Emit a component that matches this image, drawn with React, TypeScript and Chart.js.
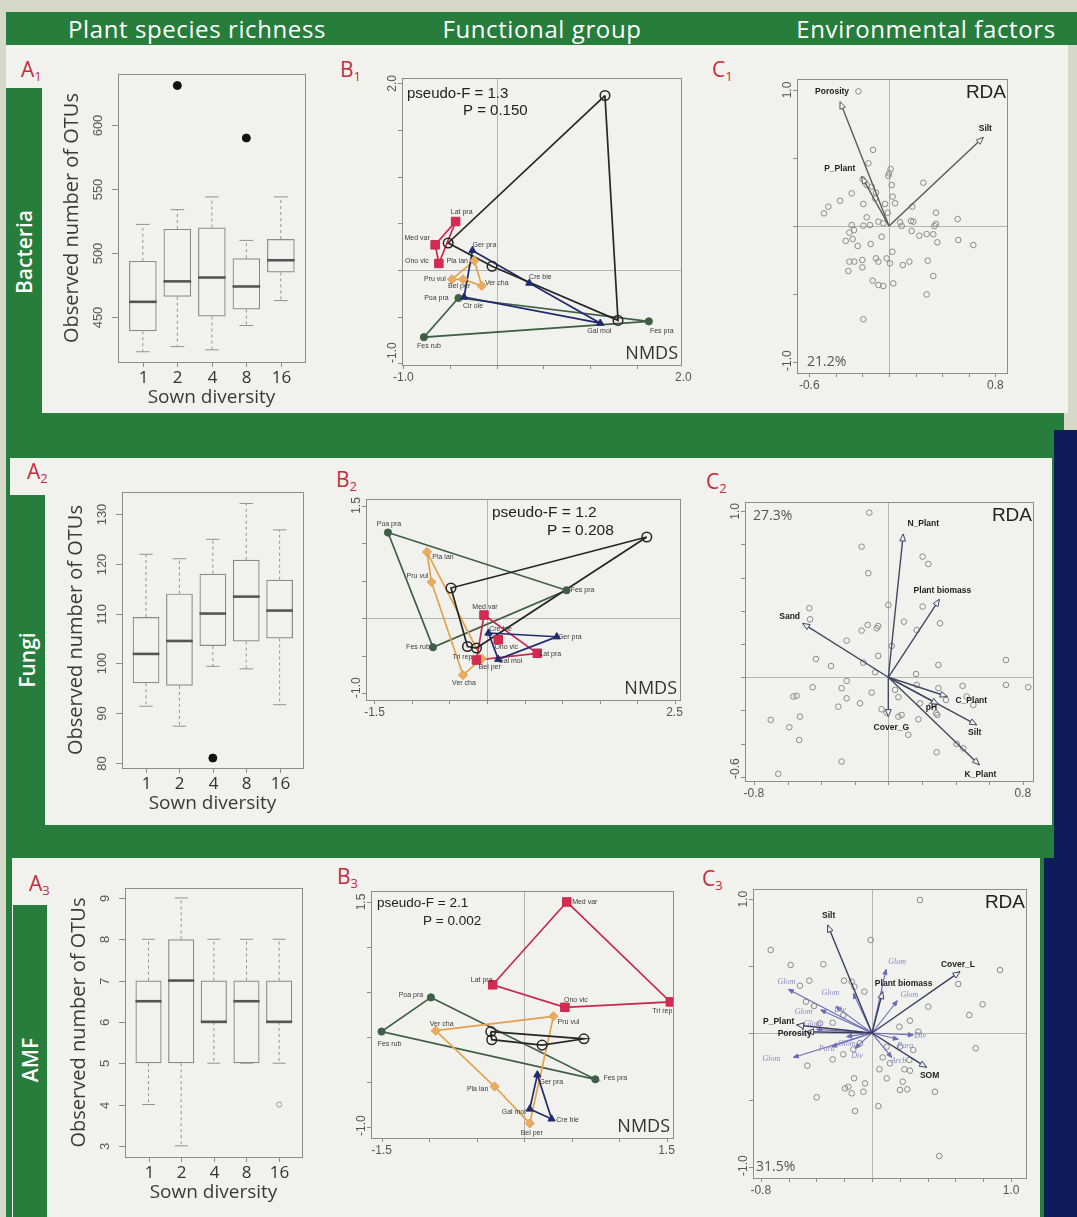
import React, { useEffect, useRef } from "react";
import { Chart, registerables } from "chart.js";

Chart.register(...registerables);

/* ====================== DATA ====================== */
const sownDiversity = ["1", "2", "4", "8", "16"];

// A1 – Bacteria observed OTUs (box plot statistics per sown diversity level)
const bacteriaLow = [423, 427, 424.5, 443.5, 463];
const bacteriaQ1 = [439, 466, 450.5, 456, 485];
const bacteriaMedian = [462, 478, 481, 474, 494.5];
const bacteriaQ3 = [494, 519, 520, 496, 511];
const bacteriaHigh = [522.5, 534, 544, 510, 544];
const bacteriaOutliers = [
  { group: "2", value: 631 },
  { group: "8", value: 590 },
];
const bacteriaTicks = [450, 500, 550, 600];

// A2 – Fungi
const fungiLow = [91.4, 87.4, 99.4, 98.9, 91.7];
const fungiQ1 = [96.0, 95.5, 103.5, 104.4, 105.0];
const fungiMedian = [101.9, 104.5, 110.0, 113.4, 110.6];
const fungiQ3 = [109.3, 114.0, 118.0, 120.8, 116.8];
const fungiHigh = [121.9, 121.0, 124.9, 132.1, 126.8];
const fungiOutliers = [{ group: "4", value: 81 }];
const fungiTicks = [80, 90, 100, 110, 120, 130];

// A3 – AMF
const amfLow = [4, 3, 5, 5, 5];
const amfQ1 = [5, 5, 6, 5, 6];
const amfMedian = [6.5, 7, 6, 6.5, 6];
const amfQ3 = [7, 8, 7, 7, 7];
const amfHigh = [8, 9, 8, 8, 8];
const amfOutliers = [{ group: "16", value: 4 }];
const amfTicks = [3, 4, 5, 6, 7, 8, 9];

// B1 – Bacteria NMDS
const b1Grasses = [
  { name: "Poa pra", x: -0.41, y: -0.3 },
  { name: "Fes rub", x: -0.78, y: -0.72 },
  { name: "Fes pra", x: 1.63, y: -0.55 },
];
const b1Legumes = [
  { name: "Lat pra", x: -0.44, y: 0.52 },
  { name: "Med var", x: -0.66, y: 0.27 },
  { name: "Ono vic", x: -0.62, y: 0.07 },
];
const b1SmallHerbs = [
  { name: "Pla lan", x: -0.24, y: 0.1 },
  { name: "Pru vul", x: -0.48, y: -0.1 },
  { name: "Bel per", x: -0.36, y: -0.1 },
  { name: "Ver cha", x: -0.16, y: -0.17 },
];
const b1TallHerbs = [
  { name: "Ger pra", x: -0.26, y: 0.21 },
  { name: "Cre bie", x: 0.35, y: -0.14 },
  { name: "Gal mol", x: 1.11, y: -0.57 },
  { name: "Cir ole", x: -0.35, y: -0.29 },
];
const b1Other = [
  { name: "", x: 1.16, y: 1.87 },
  { name: "", x: -0.52, y: 0.29 },
  { name: "", x: -0.05, y: 0.04 },
  { name: "", x: 1.3, y: -0.54 },
];

// B2 – Fungi NMDS
const b2Grasses = [
  { name: "Poa pra", x: -1.32, y: 1.14 },
  { name: "Fes pra", x: 1.06, y: 0.37 },
  { name: "Fes rub", x: -0.72, y: -0.39 },
];
const b2Legumes = [
  { name: "Med var", x: -0.04, y: 0.04 },
  { name: "Ono vic", x: 0.15, y: -0.29 },
  { name: "Lat pra", x: 0.67, y: -0.47 },
  { name: "Tri rep", x: -0.14, y: -0.56 },
];
const b2LegumeHull = ["Med var", "Lat pra", "Tri rep"];
const b2SmallHerbs = [
  { name: "Pla lan", x: -0.8, y: 0.88 },
  { name: "Pru vul", x: -0.74, y: 0.48 },
  { name: "Ver cha", x: -0.32, y: -0.76 },
  { name: "Bel per", x: -0.07, y: -0.54 },
];
const b2TallHerbs = [
  { name: "Cre bie", x: 0.02, y: -0.2 },
  { name: "Ger pra", x: 0.93, y: -0.25 },
  { name: "Gal mol", x: 0.15, y: -0.55 },
];
const b2Other = [
  { name: "", x: 2.13, y: 1.08 },
  { name: "", x: -0.48, y: 0.4 },
  { name: "", x: -0.26, y: -0.38 },
  { name: "", x: -0.14, y: -0.4 },
];

// B3 – AMF NMDS
const b3Legumes = [
  { name: "Med var", x: 0.45, y: 1.5 },
  { name: "Tri rep", x: 1.54, y: 0.39 },
  { name: "Ono vic", x: 0.43, y: 0.33 },
  { name: "Lat pra", x: -0.33, y: 0.58 },
];
const b3Grasses = [
  { name: "Poa pra", x: -0.98, y: 0.44 },
  { name: "Fes pra", x: 0.75, y: -0.47 },
  { name: "Fes rub", x: -1.5, y: 0.06 },
];
const b3SmallHerbs = [
  { name: "Ver cha", x: -0.93, y: 0.07 },
  { name: "Pru vul", x: 0.31, y: 0.23 },
  { name: "Bel per", x: 0.06, y: -0.96 },
  { name: "Pla lan", x: -0.31, y: -0.55 },
];
const b3TallHerbs = [
  { name: "Ger pra", x: 0.14, y: -0.42 },
  { name: "Cre bie", x: 0.29, y: -0.91 },
  { name: "Gal mol", x: 0.06, y: -0.8 },
];
const b3Other = [
  { name: "", x: -0.35, y: 0.06 },
  { name: "", x: 0.63, y: -0.02 },
  { name: "", x: 0.19, y: -0.09 },
  { name: "", x: -0.34, y: -0.03 },
];

// C1 – Bacteria RDA
const c1Sites = [
  [-0.23, 0.99], [-0.12, 0.56], [-0.155, 0.461], [0.012, 0.419], [0.0, 0.387], [-0.005, 0.368],
  [0.02, 0.301], [0.258, 0.318], [-0.198, 0.343], [-0.168, 0.301], [-0.13, 0.289], [-0.098, 0.245],
  [-0.281, 0.24], [-0.368, 0.186], [-0.456, 0.142], [-0.489, 0.093], [-0.193, 0.162], [0.027, 0.216],
  [-0.03, 0.162], [0.045, 0.167], [-0.105, 0.203], [0.175, 0.142], [-0.01, 0.098], [0.353, 0.098],
  [0.516, 0.051], [0.353, 0.015], [0.341, 0.0], [0.165, 0.037], [0.183, 0.032], [0.083, 0.027],
  [0.095, 0.0], [-0.08, 0.032], [-0.043, 0.02], [-0.168, 0.064], [-0.143, 0.007], [-0.193, 0.002],
  [-0.281, 0.007], [-0.263, -0.03], [-0.298, -0.049], [-0.326, -0.11], [-0.273, -0.096], [-0.236, -0.147],
  [-0.138, -0.133], [-0.055, -0.079], [0.17, -0.037], [0.228, -0.071], [0.283, -0.059], [0.333, -0.061],
  [0.363, -0.12], [0.521, -0.103], [0.634, -0.14], [0.025, -0.189], [-0.098, -0.238], [-0.018, -0.238],
  [-0.201, -0.25], [-0.261, -0.262], [-0.298, -0.262], [-0.08, -0.262], [0.007, -0.275], [0.103, -0.287],
  [0.153, -0.262], [0.291, -0.255], [-0.306, -0.331], [-0.201, -0.304], [0.333, -0.368], [-0.123, -0.402],
  [-0.08, -0.434], [-0.043, -0.441], [0.032, -0.422], [0.283, -0.503], [-0.193, -0.686],
];
const c1Env = [
  { name: "Porosity", x: -0.368, y: 0.914 },
  { name: "P_Plant", x: -0.205, y: 0.363 },
  { name: "Silt", x: 0.709, y: 0.652 },
];

// C2 – Fungi RDA
const c2Sites = [
  [-0.113, 0.992], [-0.159, 0.787], [0.204, 0.727], [0.238, 0.683], [-0.119, 0.627], [0.0, 0.436],
  [0.204, 0.426], [-0.47, 0.416], [-0.466, 0.349], [0.093, 0.335], [0.308, 0.325], [-0.159, 0.281],
  [-0.123, 0.315], [-0.06, 0.309], [-0.069, 0.295], [0.169, 0.285], [-0.248, 0.221], [0.02, 0.189],
  [-0.06, 0.129], [-0.431, 0.11], [-0.341, 0.068], [-0.149, 0.088], [0.298, 0.074], [0.7, 0.104],
  [0.165, 0.02], [-0.079, 0.03], [-0.248, -0.022], [-0.45, -0.06], [-0.278, -0.066], [-0.099, -0.092],
  [0.04, -0.076], [0.06, -0.12], [0.298, -0.066], [0.442, -0.052], [0.7, -0.046], [0.833, -0.06],
  [0.169, -0.046], [-0.565, -0.116], [-0.546, -0.112], [-0.248, -0.127], [-0.298, -0.177], [-0.169, -0.157],
  [0.188, -0.157], [0.258, -0.167], [0.284, -0.217], [0.292, -0.227], [-0.04, -0.193], [-0.01, -0.213],
  [0.06, -0.237], [0.079, -0.227], [0.179, -0.253], [0.119, -0.347], [-0.7, -0.257], [-0.526, -0.237],
  [-0.589, -0.301], [-0.53, -0.378], [-0.278, -0.508], [-0.655, -0.582], [0.288, -0.452], [0.407, -0.402],
  [0.446, -0.428], [0.506, -0.167], [0.466, -0.116], [0.343, -0.137],
];
const c2Env = [
  { name: "N_Plant", x: 0.089, y: 0.863 },
  { name: "Plant biomass", x: 0.304, y: 0.47 },
  { name: "Sand", x: -0.51, y: 0.325 },
  { name: "C_Plant", x: 0.351, y: -0.116 },
  { name: "pH", x: 0.298, y: -0.163 },
  { name: "Silt", x: 0.526, y: -0.287 },
  { name: "K_Plant", x: 0.542, y: -0.528 },
  { name: "Cover_G", x: 0.0, y: -0.237 },
];

// C3 – AMF RDA
const c3Sites = [
  [0.345, 0.993], [-0.729, 0.62], [-0.585, 0.508], [-0.35, 0.513], [-0.01, 0.694], [0.921, 0.47],
  [0.621, 0.366], [-0.201, 0.391], [-0.127, 0.346], [-0.055, 0.309], [-0.518, 0.353], [-0.451, 0.391],
  [-0.475, 0.234], [-0.417, 0.202], [0.405, 0.197], [0.796, 0.214], [0.7, 0.134], [0.273, 0.092],
  [0.333, 0.01], [0.197, 0.047], [0.746, -0.114], [-0.465, -0.244], [-0.283, -0.197], [-0.206, -0.159],
  [-0.134, -0.122], [0.077, -0.182], [0.129, -0.226], [0.233, -0.271], [0.273, -0.281], [0.053, -0.271],
  [0.106, -0.338], [0.221, -0.363], [0.201, -0.425], [0.254, -0.42], [0.453, -0.438], [-0.17, -0.401],
  [-0.194, -0.413], [-0.129, -0.338], [-0.146, -0.45], [-0.05, -0.376], [-0.062, -0.438], [-0.398, -0.48],
  [-0.122, -0.582], [0.046, -0.545], [0.484, -0.918], [-0.283, 0.077], [-0.206, 0.134], [-0.374, 0.072],
  [0.201, -0.102], [0.297, -0.127], [-0.086, -0.077], [0.106, -0.102], [-0.146, 0.383], [0.269, -0.201],
];
const c3Env = [
  { name: "Silt", x: -0.319, y: 0.806 },
  { name: "Cover_L", x: 0.633, y: 0.458 },
  { name: "Plant biomass", x: 0.077, y: 0.309 },
  { name: "P_Plant", x: -0.542, y: 0.06 },
  { name: "Porosity", x: -0.47, y: 0.01 },
  { name: "SOM", x: 0.393, y: -0.256 },
];
const c3Taxa = [
  { name: "Glom", x: -0.602, y: 0.326 },
  { name: "Glom", x: 0.101, y: 0.475 },
  { name: "Glom", x: 0.182, y: 0.241 },
  { name: "Glom", x: -0.134, y: 0.296 },
  { name: "Glom", x: -0.369, y: 0.172 },
  { name: "Glom", x: -0.566, y: -0.182 },
  { name: "Div", x: -0.259, y: 0.197 },
  { name: "Div", x: -0.122, y: -0.114 },
  { name: "Div", x: 0.297, y: -0.015 },
  { name: "Para", x: 0.189, y: -0.047 },
  { name: "Arch", x: 0.141, y: -0.182 },
  { name: "Para", x: -0.29, y: -0.102 },
  { name: "Glom", x: -0.398, y: 0.027 },
  { name: "Glom", x: -0.182, y: -0.027 },
];

/* ====================== LAYOUT / STYLE ====================== */
const GREEN = "#277d3b";
const PANEL = "#f1f2ee";
const NAVY = "#0e1c5c";
const LABEL_RED = "#c42a40";
const ARIAL = "'Liberation Sans', Arial, sans-serif";
const OPEN = "'Open Sans', 'DejaVu Sans', sans-serif";

type Rect = { l: number; t: number; r: number; b: number };

const GROUP_STYLE: any = {
  grasses: { line: "#3f5f45", fill: "#3f5f45", point: "circle", radius: 3.6, bw: 1 },
  legumes: { line: "#c9284f", fill: "#d52a52", point: "rect", radius: 6, bw: 1 },
  smallHerbs: { line: "#e3a24d", fill: "#e8ab62", point: "rectRot", radius: 4.6, bw: 1 },
  tallHerbs: { line: "#1f2b6e", fill: "#1f2b6e", point: "triangle", radius: 4.2, bw: 1 },
  other: { line: "#262626", fill: "rgba(0,0,0,0)", point: "circle", radius: 4.8, bw: 1.5 },
};

const b1Offsets: any = {
  "Lat pra": [6, -9], "Med var": [-18, -7], "Ono vic": [-22, -2], "Pla lan": [-17, 0],
  "Pru vul": [-17, 0], "Bel per": [-4, 7], "Ver cha": [15, -3], "Ger pra": [12, -5],
  "Cre bie": [11, -6], "Gal mol": [-1, 8], "Cir ole": [9, 9], "Poa pra": [-22, 0],
  "Fes rub": [5, 9], "Fes pra": [13, 10],
};
const b2Offsets: any = {
  "Poa pra": [1, -8], "Fes pra": [16, 0], "Fes rub": [-15, 0], "Pla lan": [16, 5],
  "Pru vul": [-14, -6], "Ver cha": [1, 8], "Bel per": [8, 9], "Med var": [1, -8],
  "Ono vic": [8, 7], "Lat pra": [13, 1], "Tri rep": [-14, -3], "Cre bie": [12, -4],
  "Ger pra": [13, 0], "Gal mol": [12, 2],
};
const b3Offsets: any = {
  "Med var": [18, 0], "Lat pra": [-11, -5], "Ono vic": [11, -7], "Tri rep": [-8, 9],
  "Poa pra": [-20, -2], "Fes rub": [8, 12], "Fes pra": [20, -1], "Ver cha": [6, -7],
  "Pru vul": [15, 6], "Pla lan": [-17, 3], "Bel per": [2, 10], "Ger pra": [14, 7],
  "Gal mol": [-16, 3], "Cre bie": [16, 1],
};
const c1EnvOffsets = [[-8, -10], [-22, -8], [2, -9]];
const c2EnvOffsets = [[20, -10], [3, -9], [-13, -7], [24, 4], [-7, 3], [-2, 8], [1, 10], [3, 11]];
const c3EnvOffsets = [[1, -9], [-2, -7], [21, -8], [-18, -3], [-12, 2], [3, 8]];
const c3TaxaOffsets = [
  [-2, -7], [11, -7], [12, -6], [-23, 0], [-17, 2], [-22, 1], [4, 3], [2, 8], [7, 1], [7, 7], [7, 3], [-5, 2], [-4, -6], [0, 7],
];

/* ====================== HELPERS ====================== */
function seg(ctx: any, x1: number, y1: number, x2: number, y2: number) {
  ctx.beginPath();
  ctx.moveTo(x1, y1);
  ctx.lineTo(x2, y2);
  ctx.stroke();
}
function rotText(ctx: any, text: string, x: number, y: number) {
  ctx.save();
  ctx.translate(x, y);
  ctx.rotate(-Math.PI / 2);
  ctx.textAlign = "center";
  ctx.textBaseline = "middle";
  ctx.fillText(text, 0, 0);
  ctx.restore();
}
function baseOptions(canvas: Rect, box: Rect, xr: number[], yr: number[]) {
  return {
    responsive: false,
    animation: false,
    devicePixelRatio: 1,
    events: [],
    layout: { padding: { left: box.l - canvas.l, top: box.t - canvas.t, right: canvas.r - box.r, bottom: canvas.b - box.b } },
    plugins: { legend: { display: false }, tooltip: { enabled: false }, title: { display: false } },
    scales: {
      x: { type: "linear", min: xr[0], max: xr[1], display: false, offset: false },
      y: { type: "linear", min: yr[0], max: yr[1], display: false, beginAtZero: false },
    },
  };
}
function frameTicks(ctx: any, a: any, xs: any, ys: any, xStep: number, yStep: number) {
  ctx.strokeStyle = "#8c8c8c";
  ctx.lineWidth = 1;
  ctx.strokeRect(Math.round(a.left) + 0.5, Math.round(a.top) + 0.5, Math.round(a.right - a.left), Math.round(a.bottom - a.top));
  for (let v = Math.ceil(xs.min / xStep - 1e-6) * xStep; v <= xs.max + 1e-6; v += xStep) {
    const px = Math.round(xs.getPixelForValue(v)) + 0.5;
    seg(ctx, px, a.bottom, px, a.bottom + 4);
  }
  for (let v = Math.ceil(ys.min / yStep - 1e-6) * yStep; v <= ys.max + 1e-6; v += yStep) {
    const py = Math.round(ys.getPixelForValue(v)) + 0.5;
    seg(ctx, a.left - 4, py, a.left, py);
  }
}
function endLabels(ctx: any, a: any, xs: any, ys: any, xLabels: string[], yLabels: string[]) {
  ctx.fillStyle = "#555";
  ctx.font = `12px ${ARIAL}`;
  ctx.textAlign = "center";
  ctx.textBaseline = "alphabetic";
  xLabels.forEach((t) => ctx.fillText(t, xs.getPixelForValue(parseFloat(t)), a.bottom + 16));
  yLabels.forEach((t) => {
    const w = ctx.measureText(t).width / 2;
    let py = ys.getPixelForValue(parseFloat(t));
    py = Math.max(a.top + w - 4, Math.min(a.bottom - w - 2, py));
    rotText(ctx, t, a.left - 9, py);
  });
}
function zeroLines(ctx: any, a: any, xs: any, ys: any, horizontal: boolean) {
  ctx.save();
  ctx.strokeStyle = "#b4b4b4";
  ctx.lineWidth = 1;
  const px = Math.round(xs.getPixelForValue(0)) + 0.5;
  seg(ctx, px, a.top, px, a.bottom);
  if (horizontal) {
    const py = Math.round(ys.getPixelForValue(0)) + 0.5;
    seg(ctx, a.left, py, a.right, py);
  }
  ctx.restore();
}

/* ====================== BOX PLOTS ====================== */
function makeBoxChart(cv: HTMLCanvasElement, s: any) {
  const pos = sownDiversity.map((_, i) => i + 1);
  const plugin = {
    id: "boxDecor",
    afterDatasetsDraw(chart: any) {
      const { ctx, chartArea: a } = chart;
      const xs = chart.scales.x;
      const ys = chart.scales.y;
      const meta = chart.getDatasetMeta(0);
      ctx.save();
      pos.forEach((p, i) => {
        const cx = xs.getPixelForValue(p);
        const w = meta.data[i].width;
        const yl = ys.getPixelForValue(s.low[i]);
        const y1 = ys.getPixelForValue(s.q1[i]);
        const ym = ys.getPixelForValue(s.med[i]);
        const y3 = ys.getPixelForValue(s.q3[i]);
        const yh = ys.getPixelForValue(s.high[i]);
        ctx.strokeStyle = "#929292";
        ctx.lineWidth = 1;
        ctx.setLineDash([3, 3]);
        seg(ctx, cx, y3, cx, yh);
        seg(ctx, cx, y1, cx, yl);
        ctx.setLineDash([]);
        seg(ctx, cx - w / 4, yh, cx + w / 4, yh);
        seg(ctx, cx - w / 4, yl, cx + w / 4, yl);
        ctx.strokeStyle = "#555";
        ctx.lineWidth = 2.6;
        seg(ctx, cx - w / 2, ym, cx + w / 2, ym);
      });
      // frame
      ctx.strokeStyle = "#8c8c8c";
      ctx.lineWidth = 1;
      ctx.strokeRect(Math.round(a.left) + 0.5, Math.round(a.top) + 0.5, Math.round(a.right - a.left), Math.round(a.bottom - a.top));
      // y axis ticks + rotated labels
      ctx.fillStyle = "#555";
      ctx.font = `13px ${ARIAL}`;
      s.ticks.forEach((t: number) => {
        const py = Math.round(ys.getPixelForValue(t)) + 0.5;
        seg(ctx, a.left - 6, py, a.left, py);
        rotText(ctx, String(t), a.left - 20, py);
      });
      // x axis ticks + labels
      ctx.fillStyle = "#333";
      ctx.font = `17px ${OPEN}`;
      ctx.textAlign = "center";
      ctx.textBaseline = "alphabetic";
      pos.forEach((p, i) => {
        const px = Math.round(xs.getPixelForValue(p)) + 0.5;
        seg(ctx, px, a.bottom, px, a.bottom + 5);
        ctx.fillText(sownDiversity[i], px, a.bottom + 21);
      });
      ctx.fillStyle = "#3a3a3a";
      ctx.font = `19px ${OPEN}`;
      ctx.fillText("Sown diversity", (a.left + a.right) / 2, a.bottom + 41);
      ctx.font = `20px ${OPEN}`;
      rotText(ctx, "Observed number of OTUs", a.left - 46, (a.top + a.bottom) / 2);
      ctx.restore();
    },
  };
  const opts: any = baseOptions(s.canvas, s.box, [0.28, 5.7], [s.yMin, s.yMax]);
  return new Chart(cv, {
    type: "bar",
    data: {
      datasets: [
        {
          type: "bar",
          data: pos.map((p, i) => ({ x: p, y: [s.q1[i], s.q3[i]] })),
          backgroundColor: "rgba(255,255,255,0)",
          borderColor: "#8a8a8a",
          borderWidth: 1.2,
          borderSkipped: false,
          categoryPercentage: 1,
          barPercentage: 0.8,
        },
        {
          type: "scatter",
          data: s.outliers.map((o: any) => ({ x: sownDiversity.indexOf(o.group) + 1, y: o.value })),
          pointRadius: s.outlierFilled ? 4 : 2.6,
          backgroundColor: s.outlierFilled ? "#111" : "rgba(0,0,0,0)",
          borderColor: s.outlierFilled ? "#111" : "#999",
          borderWidth: 1,
        },
      ],
    } as any,
    options: opts,
    plugins: [plugin],
  });
}

/* ====================== NMDS ====================== */
function makeNmds(cv: HTMLCanvasElement, s: any) {
  const pointSets: any[] = [];
  const hullSets: any[] = [];
  s.groups.forEach((g: any) => {
    const st = GROUP_STYLE[g.kind];
    const order = g.hull ? g.hull.map((n: string) => g.pts.find((p: any) => p.name === n)) : g.pts;
    hullSets.push({
      data: [...order, order[0]].map((p: any) => ({ x: p.x, y: p.y })),
      showLine: true,
      borderColor: st.line,
      borderWidth: 1.7,
      pointRadius: 0,
      fill: false,
      tension: 0,
    });
    pointSets.push({
      data: g.pts.map((p: any) => ({ x: p.x, y: p.y })),
      showLine: false,
      pointStyle: st.point,
      pointRadius: st.radius,
      backgroundColor: st.fill,
      borderColor: st.line,
      borderWidth: st.bw,
    });
  });
  const plugin = {
    id: "nmdsDecor",
    beforeDatasetsDraw(chart: any) {
      zeroLines(chart.ctx, chart.chartArea, chart.scales.x, chart.scales.y, s.hZero);
    },
    afterDatasetsDraw(chart: any) {
      const { ctx, chartArea: a } = chart;
      const xs = chart.scales.x;
      const ys = chart.scales.y;
      ctx.save();
      // species labels
      ctx.fillStyle = "#3a3a3a";
      ctx.font = `7px ${ARIAL}`;
      ctx.textAlign = "center";
      ctx.textBaseline = "middle";
      s.groups.forEach((g: any) =>
        g.pts.forEach((p: any) => {
          if (!p.name) return;
          const off = s.offsets[p.name] || [0, -8];
          ctx.fillText(p.name, xs.getPixelForValue(p.x) + off[0], ys.getPixelForValue(p.y) + off[1]);
        })
      );
      frameTicks(ctx, a, xs, ys, 0.5, 0.5);
      endLabels(ctx, a, xs, ys, s.xLabels, s.yLabels);
      // statistics
      ctx.fillStyle = "#222";
      ctx.textAlign = "left";
      ctx.textBaseline = "alphabetic";
      ctx.font = `${s.statSize}px ${ARIAL}`;
      s.stats.forEach((st: any) => ctx.fillText(st.text, a.left + st.dx, a.top + st.dy));
      ctx.font = `18px ${OPEN}`;
      ctx.fillStyle = "#333";
      ctx.textAlign = "right";
      ctx.fillText("NMDS", a.right - 3, a.bottom - 6);
      ctx.restore();
    },
  };
  return new Chart(cv, {
    type: "scatter",
    data: { datasets: [...pointSets, ...hullSets] } as any,
    options: baseOptions(s.canvas, s.box, s.xr, s.yr) as any,
    plugins: [plugin],
  });
}

/* ====================== RDA ====================== */
function arrowHead(ctx: any, x0: number, y0: number, x1: number, y1: number, color: string, filled: boolean, len: number) {
  const ang = Math.atan2(y1 - y0, x1 - x0);
  const bx = x1 - len * Math.cos(ang);
  const by = y1 - len * Math.sin(ang);
  const nx = -Math.sin(ang);
  const ny = Math.cos(ang);
  const h = len * 0.42;
  ctx.beginPath();
  ctx.moveTo(x1, y1);
  ctx.lineTo(bx + nx * h, by + ny * h);
  ctx.lineTo(bx - nx * h, by - ny * h);
  ctx.closePath();
  ctx.fillStyle = filled ? color : "#f2f2f2";
  ctx.fill();
  ctx.strokeStyle = color;
  ctx.lineWidth = 1;
  ctx.stroke();
}
function makeRda(cv: HTMLCanvasElement, s: any) {
  const envColor = s.envColor;
  const taxaColor = "#6b6db4";
  const arrowSets: any[] = [];
  s.env.forEach((e: any) =>
    arrowSets.push({ data: [{ x: 0, y: 0 }, { x: e.x, y: e.y }], showLine: true, borderColor: envColor, borderWidth: 1.4, pointRadius: 0, tension: 0 })
  );
  (s.taxa || []).forEach((e: any) =>
    arrowSets.push({ data: [{ x: 0, y: 0 }, { x: e.x, y: e.y }], showLine: true, borderColor: taxaColor, borderWidth: 1.1, pointRadius: 0, tension: 0 })
  );
  const sites = {
    data: s.sites.map((p: number[]) => ({ x: p[0], y: p[1] })),
    showLine: false,
    pointStyle: "circle",
    pointRadius: 2.8,
    backgroundColor: "rgba(0,0,0,0)",
    borderColor: "#8a8a8a",
    borderWidth: 1,
  };
  const plugin = {
    id: "rdaDecor",
    beforeDatasetsDraw(chart: any) {
      zeroLines(chart.ctx, chart.chartArea, chart.scales.x, chart.scales.y, true);
    },
    afterDatasetsDraw(chart: any) {
      const { ctx, chartArea: a } = chart;
      const xs = chart.scales.x;
      const ys = chart.scales.y;
      const ox = xs.getPixelForValue(0);
      const oy = ys.getPixelForValue(0);
      ctx.save();
      (s.taxa || []).forEach((e: any, i: number) => {
        const tx = xs.getPixelForValue(e.x);
        const ty = ys.getPixelForValue(e.y);
        arrowHead(ctx, ox, oy, tx, ty, taxaColor, true, 5);
        const off = s.taxaOffsets[i];
        ctx.fillStyle = "#8a87c4";
        ctx.font = `italic 8px 'Liberation Serif', 'DejaVu Serif', serif`;
        ctx.textAlign = "center";
        ctx.textBaseline = "middle";
        ctx.fillText(e.name, tx + off[0], ty + off[1]);
      });
      s.env.forEach((e: any, i: number) => {
        const tx = xs.getPixelForValue(e.x);
        const ty = ys.getPixelForValue(e.y);
        arrowHead(ctx, ox, oy, tx, ty, envColor, false, 7);
        const off = s.envOffsets[i];
        ctx.fillStyle = "#222";
        ctx.font = `bold 8.5px ${ARIAL}`;
        ctx.textAlign = "center";
        ctx.textBaseline = "middle";
        ctx.fillText(e.name, tx + off[0], ty + off[1]);
      });
      frameTicks(ctx, a, xs, ys, s.xStep, s.yStep);
      endLabels(ctx, a, xs, ys, s.xLabels, s.yLabels);
      ctx.fillStyle = "#222";
      ctx.font = `19px ${ARIAL}`;
      ctx.textAlign = "right";
      ctx.textBaseline = "alphabetic";
      ctx.fillText("RDA", a.right - 1, a.top + 19);
      ctx.fillStyle = "#555";
      ctx.font = `14px ${OPEN}`;
      ctx.textAlign = "left";
      if (s.pctTop) ctx.fillText(s.pct, a.left + 8, a.top + 18);
      else ctx.fillText(s.pct, a.left + s.pctDx, a.bottom - 7);
      ctx.restore();
    },
  };
  return new Chart(cv, {
    type: "scatter",
    data: { datasets: [...arrowSets, sites] } as any,
    options: baseOptions(s.canvas, s.box, s.xr, s.yr) as any,
    plugins: [plugin],
  });
}

/* ====================== PANEL SPECS ====================== */
const boxSpecs = [
  {
    low: bacteriaLow, q1: bacteriaQ1, med: bacteriaMedian, q3: bacteriaQ3, high: bacteriaHigh,
    outliers: bacteriaOutliers, ticks: bacteriaTicks, yMin: 415, yMax: 640, outlierFilled: true,
    canvas: { l: 45, t: 46, r: 335, b: 412 }, box: { l: 118, t: 74, r: 305, b: 362 },
  },
  {
    low: fungiLow, q1: fungiQ1, med: fungiMedian, q3: fungiQ3, high: fungiHigh,
    outliers: fungiOutliers, ticks: fungiTicks, yMin: 79, yMax: 134.4, outlierFilled: true,
    canvas: { l: 48, t: 460, r: 335, b: 823 }, box: { l: 122, t: 492, r: 303, b: 768 },
  },
  {
    low: amfLow, q1: amfQ1, med: amfMedian, q3: amfQ3, high: amfHigh,
    outliers: amfOutliers, ticks: amfTicks, yMin: 2.73, yMax: 9.24, outlierFilled: false,
    canvas: { l: 50, t: 860, r: 335, b: 1217 }, box: { l: 125, t: 888, r: 302, b: 1157 },
  },
];

const nmdsSpecs = [
  {
    groups: [
      { kind: "other", pts: b1Other },
      { kind: "tallHerbs", pts: b1TallHerbs },
      { kind: "legumes", pts: b1Legumes },
      { kind: "smallHerbs", pts: b1SmallHerbs },
      { kind: "grasses", pts: b1Grasses },
    ],
    offsets: b1Offsets, xr: [-1.015, 1.975], yr: [-1.018, 2.058], hZero: true,
    xLabels: ["-1.0", "2.0"], yLabels: ["2.0", "-1.0"], statSize: 15,
    stats: [{ text: "pseudo-F = 1.3", dx: 5, dy: 20 }, { text: "P = 0.150", dx: 61, dy: 37 }],
    canvas: { l: 335, t: 46, r: 700, b: 412 }, box: { l: 402, t: 78, r: 681, b: 365 },
  },
  {
    groups: [
      { kind: "other", pts: b2Other },
      { kind: "tallHerbs", pts: b2TallHerbs },
      { kind: "legumes", pts: b2Legumes, hull: b2LegumeHull },
      { kind: "smallHerbs", pts: b2SmallHerbs },
      { kind: "grasses", pts: b2Grasses },
    ],
    offsets: b2Offsets, xr: [-1.613, 2.573], yr: [-1.093, 1.587], hZero: true,
    xLabels: ["-1.5", "2.5"], yLabels: ["1.5", "-1.0"], statSize: 15.5,
    stats: [{ text: "pseudo-F = 1.2", dx: 126, dy: 18 }, { text: "P = 0.208", dx: 181, dy: 36 }],
    canvas: { l: 335, t: 460, r: 700, b: 823 }, box: { l: 366, t: 499, r: 680, b: 700 },
  },
  {
    groups: [
      { kind: "other", pts: b3Other },
      { kind: "tallHerbs", pts: b3TallHerbs },
      { kind: "legumes", pts: b3Legumes },
      { kind: "smallHerbs", pts: b3SmallHerbs },
      { kind: "grasses", pts: b3Grasses },
    ],
    offsets: b3Offsets, xr: [-1.611, 1.568], yr: [-1.122, 1.622], hZero: false,
    xLabels: ["-1.5", "1.5"], yLabels: ["1.5", "-1.0"], statSize: 13.5,
    stats: [{ text: "pseudo-F = 2.1", dx: 6, dy: 16 }, { text: "P = 0.002", dx: 52, dy: 34 }],
    canvas: { l: 335, t: 860, r: 700, b: 1217 }, box: { l: 371, t: 891, r: 673, b: 1138 },
  },
];

const rdaSpecs = [
  {
    sites: c1Sites, env: c1Env, envOffsets: c1EnvOffsets, envColor: "#5a5a5a",
    xr: [-0.692, 0.887], yr: [-1.081, 1.081], xStep: 0.2, yStep: 0.5,
    xLabels: ["-0.6", "0.8"], yLabels: ["1.0", "-1.0"], pct: "21.2%", pctTop: false, pctDx: 10,
    canvas: { l: 700, t: 46, r: 1066, b: 412 }, box: { l: 797, t: 79, r: 1007, b: 373 },
  },
  {
    sites: c2Sites, env: c2Env, envOffsets: c2EnvOffsets, envColor: "#45475e",
    xr: [-0.853, 0.861], yr: [-0.625, 1.056], xStep: 0.2, yStep: 0.2,
    xLabels: ["-0.8", "0.8"], yLabels: ["1.0", "-0.6"], pct: "27.3%", pctTop: true, pctDx: 8,
    canvas: { l: 700, t: 460, r: 1050, b: 823 }, box: { l: 745, t: 502, r: 1033, b: 781 },
  },
  {
    sites: c3Sites, env: c3Env, envOffsets: c3EnvOffsets, envColor: "#3a3d60",
    taxa: c3Taxa, taxaOffsets: c3TaxaOffsets,
    xr: [-0.856, 1.108], yr: [-1.082, 1.075], xStep: 0.2, yStep: 0.5,
    xLabels: ["-0.8", "1.0"], yLabels: ["1.0", "-1.0"], pct: "31.5%", pctTop: false, pctDx: 3,
    canvas: { l: 700, t: 860, r: 1040, b: 1217 }, box: { l: 753, t: 889, r: 1026, b: 1178 },
  },
];

/* ====================== COMPONENTS ====================== */
function ChartCanvas({ rect, build }: { rect: Rect; build: (c: HTMLCanvasElement) => Chart }) {
  const ref = useRef<HTMLCanvasElement | null>(null);
  useEffect(() => {
    if (!ref.current) return;
    const ch = build(ref.current);
    return () => ch.destroy();
  }, []);
  const w = rect.r - rect.l;
  const h = rect.b - rect.t;
  return (
    <canvas
      ref={ref}
      width={w}
      height={h}
      style={{ position: "absolute", left: rect.l, top: rect.t, width: w, height: h }}
    />
  );
}

function block(l: number, t: number, r: number, b: number, color: string): React.CSSProperties {
  return { position: "absolute", left: l, top: t, width: r - l, height: b - t, background: color };
}

function PanelLabel({ letter, sub, left, baseline }: { letter: string; sub: string; left: number; baseline: number }) {
  return (
    <div
      style={{
        position: "absolute",
        left,
        top: baseline - 19,
        fontFamily: OPEN,
        fontSize: 21,
        lineHeight: "21px",
        color: LABEL_RED,
        whiteSpace: "nowrap",
      }}
    >
      {letter}
      <span style={{ fontSize: 13, position: "relative", top: 4 }}>{sub}</span>
    </div>
  );
}

function RowLabel({ text, cx, cy }: { text: string; cx: number; cy: number }) {
  return (
    <div
      style={{
        position: "absolute",
        left: cx,
        top: cy,
        transform: "translate(-50%, -50%) rotate(-90deg)",
        fontFamily: OPEN,
        fontWeight: 600,
        fontSize: 21,
        color: "#ffffff",
        whiteSpace: "nowrap",
        lineHeight: "24px",
      }}
    >
      {text}
    </div>
  );
}

function Header({ text, cx }: { text: string; cx: number }) {
  return (
    <div
      style={{
        position: "absolute",
        left: cx,
        top: 12,
        height: 33,
        lineHeight: "33px",
        transform: "translateX(-50%)",
        fontFamily: OPEN,
        fontSize: 24,
        letterSpacing: 0.6,
        color: "#ffffff",
        whiteSpace: "nowrap",
      }}
    >
      {text}
    </div>
  );
}

export default function App() {
  return (
    <div
      style={{
        position: "absolute",
        left: 0,
        top: 0,
        width: 1077,
        height: 1217,
        overflow: "hidden",
        background: "#d6d9c8",
      }}
    >
      {/* poster background */}
      <div style={block(6, 12, 1054, 1217, GREEN)} />
      <div style={block(1054, 12, 1077, 45, GREEN)} />
      <div style={block(1054, 413, 1064, 430, GREEN)} />
      <div style={block(1054, 430, 1077, 1217, NAVY)} />
      <div style={block(1044, 858, 1077, 1217, NAVY)} />
      {/* white panels */}
      <div style={block(6, 45, 1068, 413, PANEL)} />
      <div style={block(10, 458, 1052, 825, PANEL)} />
      <div style={block(12, 858, 1040, 1217, PANEL)} />
      {/* row strips */}
      <div style={block(6, 88, 42, 413, GREEN)} />
      <div style={block(10, 495, 45, 825, GREEN)} />
      <div style={block(13, 905, 47, 1217, GREEN)} />

      <Header text="Plant species richness" cx={197} />
      <Header text="Functional group" cx={542} />
      <Header text="Environmental factors" cx={926} />

      <RowLabel text="Bacteria" cx={24} cy={252} />
      <RowLabel text="Fungi" cx={27} cy={660} />
      <RowLabel text="AMF" cx={30} cy={1060} />

      <PanelLabel letter="A" sub="1" left={21} baseline={78} />
      <PanelLabel letter="B" sub="1" left={340} baseline={78} />
      <PanelLabel letter="C" sub="1" left={712} baseline={78} />
      <PanelLabel letter="A" sub="2" left={27} baseline={480} />
      <PanelLabel letter="B" sub="2" left={336} baseline={488} />
      <PanelLabel letter="C" sub="2" left={706} baseline={490} />
      <PanelLabel letter="A" sub="3" left={29} baseline={892} />
      <PanelLabel letter="B" sub="3" left={337} baseline={885} />
      <PanelLabel letter="C" sub="3" left={702} baseline={887} />

      {boxSpecs.map((s, i) => (
        <ChartCanvas key={"a" + i} rect={s.canvas} build={(c) => makeBoxChart(c, s)} />
      ))}
      {nmdsSpecs.map((s, i) => (
        <ChartCanvas key={"b" + i} rect={s.canvas} build={(c) => makeNmds(c, s)} />
      ))}
      {rdaSpecs.map((s, i) => (
        <ChartCanvas key={"c" + i} rect={s.canvas} build={(c) => makeRda(c, s)} />
      ))}
    </div>
  );
}
